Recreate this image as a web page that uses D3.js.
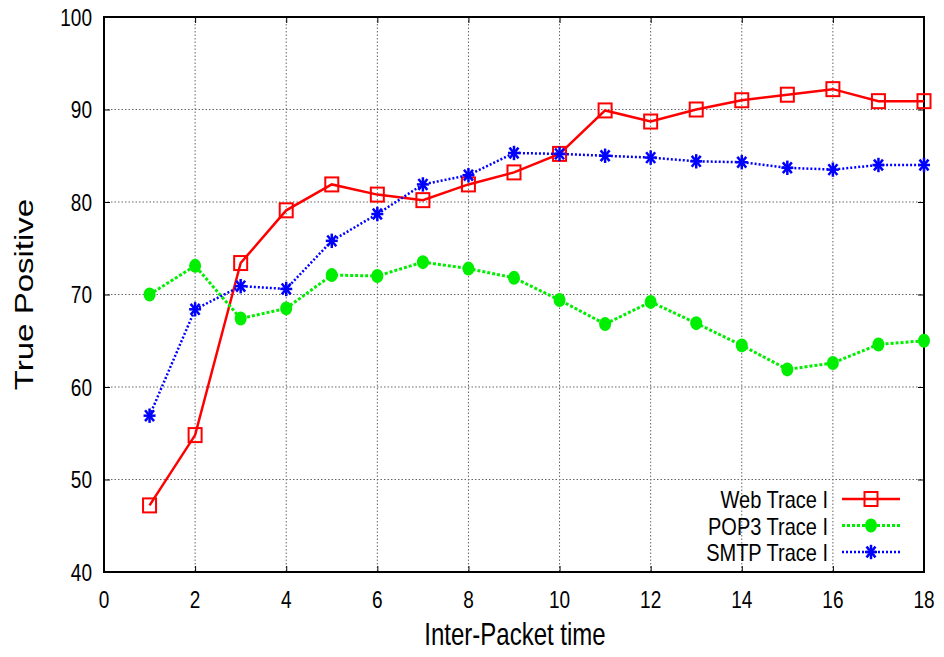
<!DOCTYPE html>
<html lang="en">
<head>
<meta charset="UTF-8">
<title>True Positive vs Inter-Packet time</title>
<style>
* { margin: 0; padding: 0; }
body { background: #fff; width: 944px; height: 657px; overflow: hidden; font-family: "Liberation Sans", Arial, sans-serif; }
.grid line { stroke: #666; stroke-width: 1; stroke-dasharray: 1.5,2; }
text { fill: #000; }
</style>
</head>
<body>
<div id="chart"></div>
<script src="https://d3js.org/d3.v7.min.js"></script>
<script>
var xValues = [1, 2, 3, 4, 5, 6, 7, 8, 9, 10, 11, 12, 13, 14, 15, 16, 17, 18];
var webTrace = [47.2, 54.8, 73.4, 79.1, 81.9, 80.8, 80.2, 81.9, 83.2, 85.2, 89.9, 88.7, 90.0, 91.0, 91.6, 92.2, 90.9, 90.9];
var pop3Trace = [70.0, 73.1, 67.4, 68.5, 72.1, 72.0, 73.5, 72.8, 71.8, 69.4, 66.8, 69.2, 66.9, 64.5, 61.9, 62.6, 64.6, 65.0];
var smtpTrace = [56.9, 68.4, 70.9, 70.6, 75.8, 78.7, 81.9, 82.9, 85.3, 85.2, 85.0, 84.8, 84.4, 84.3, 83.7, 83.5, 84.0, 84.0];
var xTicks = [0, 2, 4, 6, 8, 10, 12, 14, 16, 18];
var yTicks = [40, 50, 60, 70, 80, 90, 100];

(function() {
	var series = [
		{ name: "Web Trace I", values: webTrace, color: "#ff0000", width: 2.5, dash: null, marker: "square" },
		{ name: "POP3 Trace I", values: pop3Trace, color: "#00ee00", width: 3, dash: "3,2", marker: "circle" },
		{ name: "SMTP Trace I", values: smtpTrace, color: "#0000ff", width: 2.5, dash: "2,2", marker: "star" }
	];

	var W = 944, H = 657;
	var pLeft = 104, pRight = 924, pTop = 17, pBottom = 572;
	// the original picture is stretched vertically, so text is drawn taller than wide
	var stretch = 1.28;

	var svg = d3.select("#chart").append("svg").attr("width", W).attr("height", H);

	var x = d3.scaleLinear().domain([0, 18]).range([pLeft, pRight]);
	var y = d3.scaleLinear().domain([40, 100]).range([pBottom, pTop]);

	function addText(g, tx, ty, str, size, anchor, transformTail) {
		return g.append("text")
			.attr("transform", "translate(" + tx + "," + ty + ")" + transformTail)
			.attr("font-size", size)
			.attr("text-anchor", anchor)
			.text(str);
	}

	// dotted grid
	var grid = svg.append("g").attr("class", "grid");
	grid.selectAll("line.gx").data(xTicks.slice(1, -1)).join("line")
		.attr("class", "gx")
		.attr("x1", function(d) { return x(d); }).attr("x2", function(d) { return x(d); })
		.attr("y1", pTop).attr("y2", pBottom);
	grid.selectAll("line.gy").data(yTicks.slice(1, -1)).join("line")
		.attr("class", "gy")
		.attr("x1", pLeft).attr("x2", pRight)
		.attr("y1", function(d) { return y(d); }).attr("y2", function(d) { return y(d); });

	// axes with inward ticks, mirrored; labels drawn separately
	function styleAxis(g) {
		g.select(".domain").remove();
		g.selectAll(".tick line").attr("stroke", "#000").attr("stroke-width", 1);
		g.selectAll(".tick text").remove();
	}
	svg.append("g").attr("transform", "translate(0," + pBottom + ")")
		.call(d3.axisBottom(x).tickValues(xTicks).tickSize(-6)).call(styleAxis);
	svg.append("g").attr("transform", "translate(0," + pTop + ")")
		.call(d3.axisTop(x).tickValues(xTicks).tickSize(-6)).call(styleAxis);
	svg.append("g").attr("transform", "translate(" + pLeft + ",0)")
		.call(d3.axisLeft(y).tickValues(yTicks).tickSize(-6)).call(styleAxis);
	svg.append("g").attr("transform", "translate(" + pRight + ",0)")
		.call(d3.axisRight(y).tickValues(yTicks).tickSize(-6)).call(styleAxis);

	var labels = svg.append("g");
	xTicks.forEach(function(d) {
		addText(labels, x(d), 608, d, 19, "middle", " scale(1," + stretch + ")");
	});
	yTicks.forEach(function(d) {
		addText(labels, 92, y(d) + 8.7, d, 19, "end", " scale(1," + stretch + ")");
	});

	svg.append("rect")
		.attr("x", pLeft).attr("y", pTop)
		.attr("width", pRight - pLeft).attr("height", pBottom - pTop)
		.attr("fill", "none").attr("stroke", "#000").attr("stroke-width", 2);

	// axis titles
	addText(svg, (pLeft + pRight) / 2 + 1, 645, "Inter-Packet time", 24, "middle", " scale(1," + stretch + ")");
	addText(svg, 33, (pTop + pBottom) / 2, "True Positive", 25, "middle", " rotate(-90) scale(1.32,1)");

	function drawMarker(g, type, color) {
		if (type === "square") {
			g.append("rect").attr("x", -6.5).attr("y", -7).attr("width", 13).attr("height", 14)
				.attr("fill", "none").attr("stroke", color).attr("stroke-width", 2);
		} else if (type === "circle") {
			g.append("ellipse").attr("rx", 6).attr("ry", 7).attr("fill", color);
		} else {
			var r = 6;
			[[-r, 0, r, 0], [0, -r * 1.2, 0, r * 1.2], [-r * 0.75, -r * 0.9, r * 0.75, r * 0.9], [-r * 0.75, r * 0.9, r * 0.75, -r * 0.9]]
				.forEach(function(s) {
					g.append("line").attr("x1", s[0]).attr("y1", s[1]).attr("x2", s[2]).attr("y2", s[3])
						.attr("stroke", color).attr("stroke-width", 2.5);
				});
		}
	}

	var line = d3.line()
		.x(function(d, i) { return x(xValues[i]); })
		.y(function(d) { return y(d); });

	var plot = svg.append("g");
	series.forEach(function(s) {
		plot.append("path")
			.attr("d", line(s.values))
			.attr("fill", "none")
			.attr("stroke", s.color)
			.attr("stroke-width", s.width)
			.attr("stroke-dasharray", s.dash);
		s.values.forEach(function(v, i) {
			var m = plot.append("g").attr("transform", "translate(" + x(xValues[i]) + "," + y(v) + ")");
			drawMarker(m, s.marker, s.color);
		});
	});

	// legend
	var legend = svg.append("g");
	series.forEach(function(s, i) {
		var ly = 499 + i * 26.5;
		addText(legend, 828, ly + 9, s.name, 20, "end", " scale(1,1.2)");
		legend.append("line")
			.attr("x1", 842).attr("x2", 900).attr("y1", ly).attr("y2", ly)
			.attr("stroke", s.color).attr("stroke-width", s.width)
			.attr("stroke-dasharray", s.dash);
		var m = legend.append("g").attr("transform", "translate(871," + ly + ")");
		drawMarker(m, s.marker, s.color);
	});
})();
</script>
</body>
</html>
